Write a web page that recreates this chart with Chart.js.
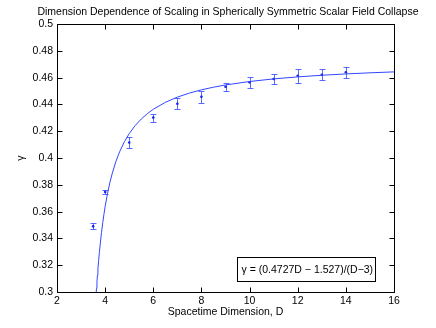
<!DOCTYPE html>
<html><head><meta charset="utf-8">
<script src="https://cdn.jsdelivr.net/npm/chart.js@4"></script>
<style>html,body{margin:0;padding:0;background:#fff}#wrap{width:436px;height:328px}</style>
</head><body><div id="wrap"><canvas id="c" width="436" height="328"></canvas></div>
<script>
const titleText = "Dimension Dependence of Scaling in Spherically Symmetric Scalar Field Collapse";
const xLabel = "Spacetime Dimension, D";
const yLabel = "γ";
const fitLabel = "γ = (0.4727D − 1.527)/(D−3)";

// measured data (spacetime dimension, critical exponent, error)
const dims   = [3.5,   4,      5,      6,     7,      8,      9,      10,     11,     12,     13,     14];
const gammas = [0.349, 0.3747, 0.4116, 0.4302, 0.4405, 0.4458, 0.4532, 0.4565, 0.4590, 0.4614, 0.4622, 0.4640];
const errs   = [0.0022,0.0018, 0.0042, 0.0030, 0.0040, 0.0044, 0.0030, 0.0040, 0.0040, 0.0050, 0.0040, 0.0042];

// fit curve gamma = (A*D - B)/(D - C)
const fitA = 0.4727, fitB = 1.527, fitC = 3;
const curveD = [3.6,3.62,3.64,3.66,3.68,3.7,3.73,3.76,3.8,3.85,3.9,3.95,4,4.1,4.2,4.3,4.45,4.6,4.8,5,5.25,5.5,5.75,6,6.5,7,7.5,8,8.5,9,10,11,12,13,14,15,16];

const xTicks = [2,4,6,8,10,12,14,16];
const yTicks = [0.3,0.32,0.34,0.36,0.38,0.4,0.42,0.44,0.46,0.48,0.5];
const yTickLabels = ["0.3","0.32","0.34","0.36","0.38","0.4","0.42","0.44","0.46","0.48","0.5"];

const FONT = "'Liberation Sans', Arial, Helvetica, sans-serif";
const FS = 10.5;
const BLUE = "rgb(50,70,255)";

const decor = {
  id: 'decor',
  beforeDatasetsDraw(chart) {
    const {ctx, scales: {x, y}} = chart;
    ctx.save();
    ctx.strokeStyle = "rgba(60,80,255,0.85)";
    ctx.lineWidth = 1;
    dims.forEach((d, i) => {
      const px = Math.round(x.getPixelForValue(d)) + 0.5;
      const t = Math.round(y.getPixelForValue(gammas[i] + errs[i])) + 0.5;
      const b = Math.round(y.getPixelForValue(gammas[i] - errs[i])) + 0.5;
      ctx.beginPath();
      ctx.moveTo(px, t); ctx.lineTo(px, b);
      ctx.moveTo(px - 3, t); ctx.lineTo(px + 3, t);
      ctx.moveTo(px - 3, b); ctx.lineTo(px + 3, b);
      ctx.stroke();
    });
    ctx.restore();
  },
  afterDatasetsDraw(chart) {
    const {ctx, chartArea: a, scales: {x, y}} = chart;
    ctx.save();
    const L = Math.round(a.left) + 0.5, R = Math.round(a.right) + 0.5;
    const T = Math.round(a.top) + 0.5, B = Math.round(a.bottom) + 0.5;
    ctx.strokeStyle = "#000";
    ctx.lineWidth = 1;
    ctx.strokeRect(L, T, R - L, B - T);
    const tl = 5;
    ctx.beginPath();
    xTicks.forEach(v => {
      const px = Math.round(x.getPixelForValue(v)) + 0.5;
      ctx.moveTo(px, B); ctx.lineTo(px, B - tl);
      ctx.moveTo(px, T); ctx.lineTo(px, T + tl);
    });
    yTicks.forEach(v => {
      const py = Math.round(y.getPixelForValue(v)) + 0.5;
      ctx.moveTo(L, py); ctx.lineTo(L + tl, py);
      ctx.moveTo(R, py); ctx.lineTo(R - tl, py);
    });
    ctx.stroke();
    // fit legend box
    const bx = R - 157, by = B - 35, bw = 138, bh = 24;
    ctx.fillStyle = "#fff";
    ctx.fillRect(bx, by, bw, bh);
    ctx.strokeRect(bx, by, bw, bh);
    ctx.fillStyle = "#000";
    ctx.font = FS + "px " + FONT;
    ctx.textBaseline = "middle";
    ctx.textAlign = "left";
    ctx.fillText(fitLabel, bx + 4, by + bh / 2 + 0.5);
    ctx.restore();
  }
};

new Chart(document.getElementById('c'), {
  type: 'scatter',
  data: {
    datasets: [
      {
        type: 'line',
        data: curveD.map(d => ({x: d, y: (fitA * d - fitB) / (d - fitC)})),
        borderColor: BLUE,
        borderWidth: 1,
        pointRadius: 0,
        tension: 0,
        fill: false
      },
      {
        data: dims.map((d, i) => ({x: d, y: gammas[i]})),
        backgroundColor: "rgb(20,40,230)",
        borderColor: "rgb(20,40,230)",
        borderWidth: 0,
        pointRadius: 1.3
      }
    ]
  },
  options: {
    responsive: false,
    animation: false,
    devicePixelRatio: 1,
    layout: {padding: {left: 20, right: 0, top: 0, bottom: 0}},
    plugins: {
      legend: {display: false},
      tooltip: {enabled: false},
      title: {
        display: true, text: titleText, color: "#000",
        font: {family: FONT, size: FS, weight: 'normal'},
        padding: {top: 5.5, bottom: 6}
      }
    },
    scales: {
      x: {
        type: 'linear', min: 2, max: 16,
        afterBuildTicks: s => { s.ticks = xTicks.map(v => ({value: v})); },
        grid: {display: false, drawTicks: false},
        border: {display: false},
        ticks: {color: "#000", font: {family: FONT, size: FS}, padding: 3, maxRotation: 0, autoSkip: false},
        title: {display: true, text: xLabel, color: "#000", font: {family: FONT, size: FS}, padding: {top: 0, bottom: 9.5}},
        afterFit: s => { s.height = 36; }
      },
      y: {
        type: 'linear', min: 0.3, max: 0.5, position: 'left',
        afterBuildTicks: s => { s.ticks = yTicks.map(v => ({value: v})); },
        grid: {display: false, drawTicks: false},
        border: {display: false},
        ticks: {color: "#000", font: {family: FONT, size: FS}, padding: 4, autoSkip: false,
          callback: (v, i) => yTickLabels[i]},
        title: {display: true, text: yLabel, color: "#000", font: {family: FONT, size: FS, lineHeight: '2px'}, padding: {top: 0, bottom: 0}},
        afterFit: s => { s.width = 37; }
      },
      y2: {
        type: 'linear', position: 'right', min: 0, max: 1,
        grid: {display: false, drawTicks: false},
        border: {display: false},
        ticks: {display: false},
        afterFit: s => { s.width = 42; }
      }
    }
  },
  plugins: [decor]
});
</script>
</body></html>
